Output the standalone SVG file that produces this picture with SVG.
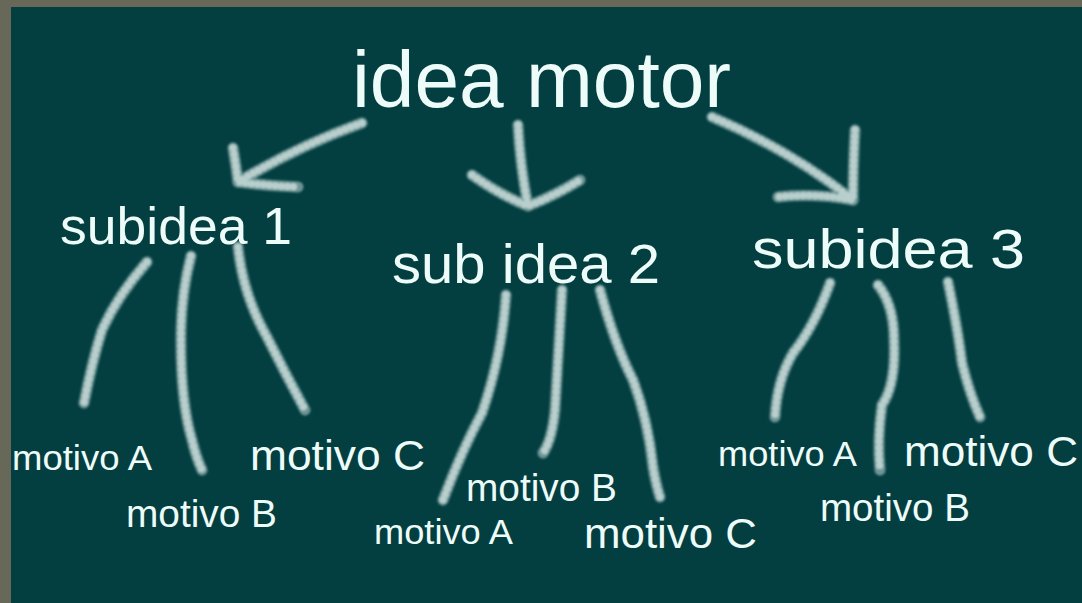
<svg xmlns="http://www.w3.org/2000/svg" width="1082" height="603" viewBox="0 0 1082 603">
<style>
.t{font-family:"Liberation Sans",Arial,sans-serif;fill:#eefcf9}
.base{fill:none;stroke:#8aaba9;stroke-width:11;stroke-linecap:round;stroke-linejoin:round;opacity:0.8}
.bead{fill:none;stroke:#c6dad8;stroke-width:7.5;stroke-linecap:round;stroke-dasharray:0 6;opacity:0.85}
</style>
<defs>
<filter id="soft" x="-5%" y="-5%" width="110%" height="110%"><feGaussianBlur stdDeviation="0.9"/></filter>
</defs>
<rect x="0" y="0" width="1082" height="603" fill="#676858"/>
<rect x="11" y="7" width="1071" height="596" fill="#033f41"/>
<g id="connectors" filter="url(#soft)">
<g id="arrows-base" class="base">
<path d="M362,123 Q300,145 238,182"/>
<path d="M233,148 Q236,166 238,182 Q268,186 298,187"/>
<path d="M518,125 Q520,165 528,206"/>
<path d="M472,175 Q500,195 528,206 Q556,195 580,180"/>
<path d="M712,117 Q790,150 853,200"/>
<path d="M855,130 Q853,168 853,200 Q815,193 778,197"/>
<path d="M147,262 Q118,295 102,330 Q92,362 84,403"/>
<path d="M191,256 Q182,290 181,330 Q180,400 192,440 Q196,457 202,470"/>
<path d="M238,247 Q243,295 267,337 Q285,373 305,410"/>
<path d="M506,295 Q502,355 482,413 Q462,450 443,500"/>
<path d="M562,290 Q558,360 555,410 Q552,440 543,453"/>
<path d="M600,290 Q615,345 633,380 Q648,420 653,467 Q656,485 660,497"/>
<path d="M830,283 Q815,325 793,353 Q777,380 775,417"/>
<path d="M878,285 Q894,305 894,340 Q896,385 882,405 Q877,440 880,470"/>
<path d="M948,282 Q958,330 962,363 Q970,395 980,417"/>
</g>
<g id="arrows-bead" class="bead">
<path d="M362,123 Q300,145 238,182"/>
<path d="M233,148 Q236,166 238,182 Q268,186 298,187"/>
<path d="M518,125 Q520,165 528,206"/>
<path d="M472,175 Q500,195 528,206 Q556,195 580,180"/>
<path d="M712,117 Q790,150 853,200"/>
<path d="M855,130 Q853,168 853,200 Q815,193 778,197"/>
<path d="M147,262 Q118,295 102,330 Q92,362 84,403"/>
<path d="M191,256 Q182,290 181,330 Q180,400 192,440 Q196,457 202,470"/>
<path d="M238,247 Q243,295 267,337 Q285,373 305,410"/>
<path d="M506,295 Q502,355 482,413 Q462,450 443,500"/>
<path d="M562,290 Q558,360 555,410 Q552,440 543,453"/>
<path d="M600,290 Q615,345 633,380 Q648,420 653,467 Q656,485 660,497"/>
<path d="M830,283 Q815,325 793,353 Q777,380 775,417"/>
<path d="M878,285 Q894,305 894,340 Q896,385 882,405 Q877,440 880,470"/>
<path d="M948,282 Q958,330 962,363 Q970,395 980,417"/>
</g>
</g>
<g id="root"><text class="t" x="352" y="107" font-size="80" textLength="379" lengthAdjust="spacingAndGlyphs">idea motor</text></g>
<g id="sub1"><text class="t" x="60" y="244" font-size="52" textLength="232" lengthAdjust="spacingAndGlyphs">subidea 1</text></g>
<g id="sub2"><text class="t" x="392" y="283" font-size="56" textLength="268" lengthAdjust="spacingAndGlyphs">sub idea 2</text></g>
<g id="sub3"><text class="t" x="752" y="268" font-size="56" textLength="273" lengthAdjust="spacingAndGlyphs">subidea 3</text></g>
<g id="m1a"><text class="t" x="12" y="470" font-size="35" textLength="140" lengthAdjust="spacingAndGlyphs">motivo A</text></g>
<g id="m1b"><text class="t" x="126" y="527" font-size="38" textLength="151" lengthAdjust="spacingAndGlyphs">motivo B</text></g>
<g id="m1c"><text class="t" x="250" y="470" font-size="43" textLength="175" lengthAdjust="spacingAndGlyphs">motivo C</text></g>
<g id="m2a"><text class="t" x="374" y="544" font-size="35" textLength="139" lengthAdjust="spacingAndGlyphs">motivo A</text></g>
<g id="m2b"><text class="t" x="466" y="501" font-size="38" textLength="151" lengthAdjust="spacingAndGlyphs">motivo B</text></g>
<g id="m2c"><text class="t" x="584" y="548" font-size="43" textLength="173" lengthAdjust="spacingAndGlyphs">motivo C</text></g>
<g id="m3a"><text class="t" x="718" y="466" font-size="35" textLength="139" lengthAdjust="spacingAndGlyphs">motivo A</text></g>
<g id="m3b"><text class="t" x="820" y="521" font-size="38" textLength="150" lengthAdjust="spacingAndGlyphs">motivo B</text></g>
<g id="m3c"><text class="t" x="904" y="466" font-size="43" textLength="174" lengthAdjust="spacingAndGlyphs">motivo C</text></g>
</svg>
